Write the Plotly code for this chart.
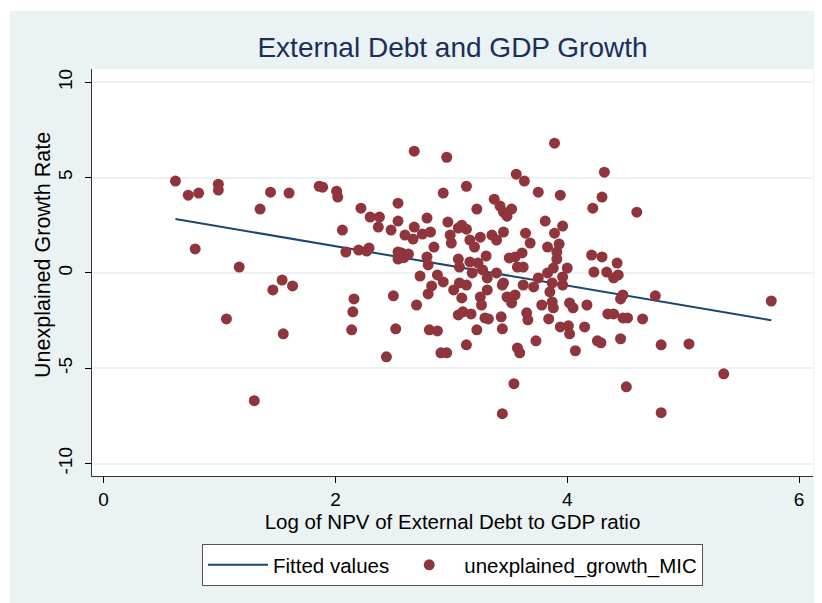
import plotly.graph_objects as go

# ---- data ----
debt_log = [0.62, 0.73, 0.82, 0.79, 0.99, 0.99, 1.06, 1.17, 1.30, 1.35,
            1.44, 1.46, 1.54, 1.55, 1.60, 1.63, 1.86, 1.89, 2.01, 2.02,
            2.06, 2.09, 2.14, 2.15, 2.16, 2.20, 2.22, 2.27, 2.29, 2.30,
            2.37, 2.38, 2.44, 2.48, 2.50, 2.52, 2.54, 2.54, 2.54, 2.54,
            2.57, 2.59, 2.60, 2.63, 2.67, 2.68, 2.68, 2.70, 2.73, 2.75,
            2.79, 2.79, 2.80, 2.80, 2.81, 2.82, 2.83, 2.85, 2.88, 2.88,
            2.91, 2.93, 2.93, 2.96, 2.96, 2.97, 2.99, 3.00, 3.02, 3.06,
            3.06, 3.06, 3.07, 3.07, 3.09, 3.09, 3.10, 3.13, 3.13, 3.13,
            3.13, 3.16, 3.16, 3.17, 3.18, 3.20, 3.22, 3.22, 3.23, 3.25,
            3.25, 3.26, 3.27, 3.29, 3.30, 3.31, 3.31, 3.32, 3.35, 3.37,
            3.39, 3.39, 3.42, 3.43, 3.44, 3.44, 3.44, 3.45, 3.45, 3.45,
            3.48, 3.48, 3.50, 3.52, 3.52, 3.54, 3.55, 3.55, 3.56, 3.57,
            3.57, 3.59, 3.61, 3.62, 3.62, 3.63, 3.64, 3.65, 3.66, 3.68,
            3.71, 3.73, 3.75, 3.75, 3.78, 3.81, 3.83, 3.83, 3.84, 3.85,
            3.87, 3.87, 3.88, 3.88, 3.89, 3.89, 3.91, 3.91, 3.93, 3.94,
            3.94, 3.96, 3.96, 3.96, 4.00, 4.01, 4.02, 4.02, 4.05, 4.07,
            4.15, 4.17, 4.21, 4.22, 4.23, 4.26, 4.29, 4.30, 4.30, 4.32,
            4.34, 4.35, 4.40, 4.40, 4.43, 4.44, 4.46, 4.46, 4.48, 4.48,
            4.51, 4.52, 4.60, 4.65, 4.76, 4.81, 4.81, 5.05, 5.35, 5.76]

growth_resid = [4.82, 4.08, 4.19, 1.26, 4.66, 4.35, -2.41, 0.31, -6.70, 3.35,
                4.24, -0.89, -0.37, -3.19, 4.19, -0.68, 4.55, 4.50, 4.29, 3.98,
                2.25, 1.10, -2.98, -2.04, -1.36, 1.20, 3.40, 1.15, 1.31, 2.93,
                2.41, 2.93, -4.40, 2.25, -1.20, -2.93, 3.66, 2.72, 1.10, 0.73,
                1.05, 0.80, 1.99, 0.99, 1.78, 6.39, 2.41, -1.68, -0.16, 2.04,
                2.88, 0.84, 0.42, -1.10, -2.98, 2.15, -0.68, 1.36, -0.10, -3.04,
                -4.19, 4.19, -0.47, 6.07, -4.19, 2.67, 1.99, 1.57, -0.89, 2.36,
                0.73, -2.20, 0.31, -0.52, 2.51, -1.31, -2.04, 4.55, 2.30, -0.63,
                -3.77, 1.73, 0.58, -2.15, 0.00, 1.36, 3.35, -2.98, 0.52, 1.88,
                -1.26, -1.68, 0.16, -2.36, 0.89, -0.26, -0.89, -2.41, 1.99, 3.87,
                1.73, 0.00, 3.51, -2.30, -2.93, -0.63, -7.38, 3.19, 2.15, -0.52,
                2.98, -1.26, 0.79, 3.35, -1.57, -5.81, 0.84, -1.15, 5.18, 0.31,
                -3.93, -4.19, 1.05, 0.31, -0.63, 4.82, 2.09, -2.09, -2.46, 1.57,
                -0.73, -3.56, 4.24, -0.26, -1.68, 2.72, 1.36, 0.00, -2.41, -0.99,
                -0.52, -1.52, 0.26, -1.83, 6.81, 2.09, 0.73, 1.10, 1.52, 4.08,
                -2.83, 2.46, -0.21, -0.63, 0.26, -2.77, -3.19, -1.57, -1.83, -4.08,
                -2.83, -1.68, 0.94, 3.40, 0.05, -3.56, -3.66, 3.98, 0.84, 5.29,
                0.05, -2.15, -2.15, -0.26, 0.52, -0.10, -1.36, -3.45, -1.15, -2.36,
                -5.97, -2.36, 3.19, -2.41, -1.20, -3.77, -7.33, -3.72, -5.29, -1.47]

fit_x = [0.62, 5.76]
fit_y = [2.83, -2.48]

x_ticks = [0, 2, 4, 6]
y_ticks = [-10, -5, 0, 5, 10]
y_tick_labels = ["-10", "-5", "0", "5", "10"]

BG = "#EAF2F3"
NAVY = "#1A476F"
MAROON = "#90353B"
FONT = "Liberation Sans, Arial, sans-serif"

fig = go.Figure()
fig.add_trace(go.Scatter(x=fit_x, y=fit_y, mode="lines", name="Fitted values",
                         line=dict(color=NAVY, width=2)))
fig.add_trace(go.Scatter(x=debt_log, y=growth_resid, mode="markers",
                         name="unexplained_growth_MIC",
                         marker=dict(color=MAROON, size=11, line=dict(width=0))))

# figure-pixel geometry (page is offset by the 8px body margin)
L, R, T, B = 84, 805, 61, 468
W, H = 822, 603
pw, ph = R - L, B - T
px = lambda p: (p - L) / pw
py = lambda p: (B - p) / ph

fig.update_layout(
    width=W, height=H, autosize=False,
    margin=dict(l=L, r=W - R, t=T, b=H - B, pad=0),
    paper_bgcolor="white",
    plot_bgcolor="white",
    font=dict(family=FONT, color="black", size=18),
    title=dict(text="External Debt and GDP Growth", x=0.5, xref="paper",
               y=1 - 39 / H, yanchor="middle",
               font=dict(size=28, color="#1C2E5A", family=FONT)),
    shapes=[
        dict(type="rect", xref="paper", yref="paper", layer="below",
             x0=px(2), x1=px(W + 20), y0=py(H + 20), y1=py(3),
             fillcolor=BG, line=dict(width=0)),
        dict(type="rect", xref="paper", yref="paper", layer="below",
             x0=0, x1=1, y0=0, y1=1, fillcolor="white", line=dict(width=0)),
    ],
    annotations=[
        dict(text="Unexplained Growth Rate", xref="paper", yref="paper",
             x=px(35), y=py(247), xanchor="center", yanchor="middle",
             textangle=-90, showarrow=False, font=dict(size=21.5, family=FONT, color="black")),
    ],
    showlegend=True,
    legend=dict(orientation="h", x=0.5, xanchor="center", y=py(536), yanchor="top",
                bgcolor="white", bordercolor="#555555", borderwidth=1,
                font=dict(size=20.5, family=FONT), itemwidth=60),
)

fig.update_xaxes(range=[-0.10, 6.12], tickvals=x_ticks, ticks="outside", ticklen=6,
                 tickcolor="black", showline=True, linecolor="#333333", linewidth=1,
                 showgrid=False, zeroline=False, tickfont=dict(size=19), automargin=False,
                 title=dict(text="Log of NPV of External Debt to GDP ratio",
                            font=dict(size=20.5), standoff=2))
fig.update_yaxes(range=[-10.65, 10.7], tickvals=y_ticks, ticktext=y_tick_labels,
                 ticks="outside", ticklen=6,
                 tickcolor="black", showline=True, linecolor="#333333", linewidth=1,
                 showgrid=True, gridcolor=BG, gridwidth=1.5, zeroline=False,
                 tickangle=-90, tickfont=dict(size=19), automargin=False,
                 ticklabelstandoff=5)

fig.write_html("out.html")
